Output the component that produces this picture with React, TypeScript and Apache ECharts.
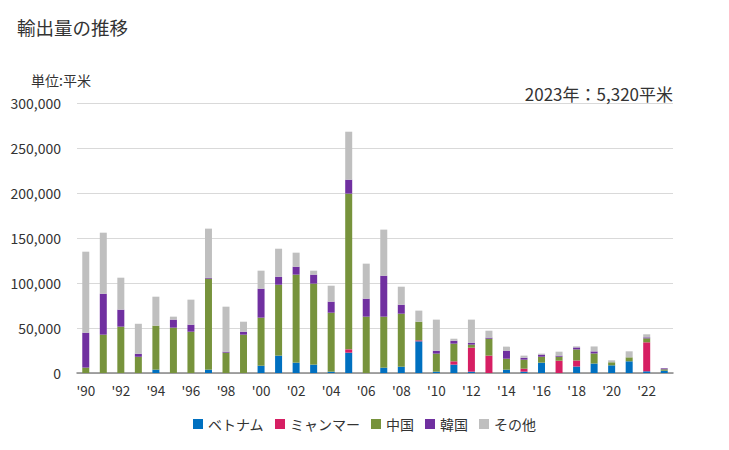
import React, { useEffect, useRef } from "react";
import * as echarts from "echarts";

const years = Array.from({ length: 34 }, (_, i) => String(1990 + i));
const vietnam = [0, 0, 0, 0, 3700, 0, 0, 3700, 0, 0, 8100, 19300, 11500, 9300, 1500, 22600, 0, 5900, 7000, 35200, 1500, 9300, 1500, 0, 3700, 1500, 11500, 0, 7200, 10500, 8500, 13000, 1900, 2500];
const myanmar = [0, 0, 0, 0, 0, 0, 0, 0, 0, 0, 0, 0, 0, 0, 0, 3700, 0, 0, 0, 1100, 0, 3700, 26600, 19300, 0, 3300, 0, 13700, 6700, 0, 0, 0, 32200, 0];
const china = [6000, 42600, 51500, 18000, 48900, 50400, 45900, 101100, 22600, 42600, 53400, 78800, 97800, 90000, 65500, 173000, 62600, 56700, 58900, 20700, 20000, 19600, 3400, 18800, 12200, 10000, 6600, 4400, 12300, 11200, 3400, 4400, 4400, 1600];
const korea = [38800, 45500, 18900, 3400, 0, 8900, 7800, 1100, 1100, 3300, 32200, 8900, 8800, 10000, 12300, 15500, 20000, 45500, 10000, 0, 3300, 3300, 2200, 1200, 8900, 2200, 2300, 1200, 2200, 2300, 0, 0, 1100, 1100];
const others = [90000, 67800, 35500, 33300, 32200, 3300, 27800, 54500, 50000, 11100, 20000, 31100, 15600, 4400, 17700, 53300, 38900, 51200, 20000, 12300, 34500, 2200, 25600, 7700, 4500, 2300, 1100, 4400, 1200, 5500, 2200, 6700, 3400, 120];
const yTicks = [0, 50000, 100000, 150000, 200000, 250000, 300000];

const seriesDefs = [
  { name: "ベトナム", data: vietnam, color: "#0070C0" },
  { name: "ミャンマー", data: myanmar, color: "#D61F63" },
  { name: "中国", data: china, color: "#77933C" },
  { name: "韓国", data: korea, color: "#7030A0" },
  { name: "その他", data: others, color: "#BFBFBF" },
];

const FONT = "'Noto Sans CJK JP', 'Noto Sans', sans-serif";

export default function App() {
  const ref = useRef<HTMLDivElement>(null);
  useEffect(() => {
    if (!ref.current) return;
    const chart = echarts.init(ref.current, null, { renderer: "svg" });
    chart.setOption({
      animation: false,
      textStyle: { fontFamily: FONT },
      title: [
        { text: "輸出量の推移", left: 12, top: 13, textStyle: { fontSize: 18.5, fontWeight: "normal", color: "#333", fontFamily: FONT } },
        { text: "単位:平米", left: 26, top: 68, textStyle: { fontSize: 14, fontWeight: "normal", color: "#333", fontFamily: FONT } },
        { text: "2023年：5,320平米", right: 51, top: 80, textStyle: { fontSize: 17, fontWeight: "normal", color: "#333", fontFamily: FONT } },
      ],
      legend: {
        bottom: 14,
        left: "center",
        itemWidth: 10,
        itemHeight: 10,
        itemGap: 11,
        icon: "rect",
        textStyle: { fontSize: 14, color: "#333", fontFamily: FONT },
        data: seriesDefs.map((s) => s.name),
      },
      grid: { left: 77, right: 56, top: 103, bottom: 77, containLabel: false },
      xAxis: {
        type: "category",
        data: years,
        axisTick: { show: false },
        axisLine: { lineStyle: { color: "#888", width: 1.5 } },
        axisLabel: {
          interval: 1,
          color: "#333",
          fontSize: 13.5,
          margin: 10,
          fontFamily: FONT,
          formatter: (v: string) => "'" + v.slice(2),
        },
      },
      yAxis: {
        type: "value",
        min: yTicks[0],
        max: yTicks[yTicks.length - 1],
        interval: 50000,
        axisLine: { show: false },
        axisTick: { show: false },
        splitLine: { lineStyle: { color: "#D9D9D9", width: 1.2 } },
        axisLabel: {
          color: "#333",
          fontSize: 14,
          margin: 16,
          fontFamily: FONT,
          formatter: (v: number) => v.toLocaleString("en-US"),
        },
      },
      series: seriesDefs.map((s) => ({
        name: s.name,
        type: "bar",
        stack: "total",
        data: s.data,
        barWidth: 7,
        itemStyle: { color: s.color },
      })),
    });
    return () => chart.dispose();
  }, []);
  return <div ref={ref} style={{ width: 729, height: 450, position: "absolute", left: 0, top: 0 }} />;
}
